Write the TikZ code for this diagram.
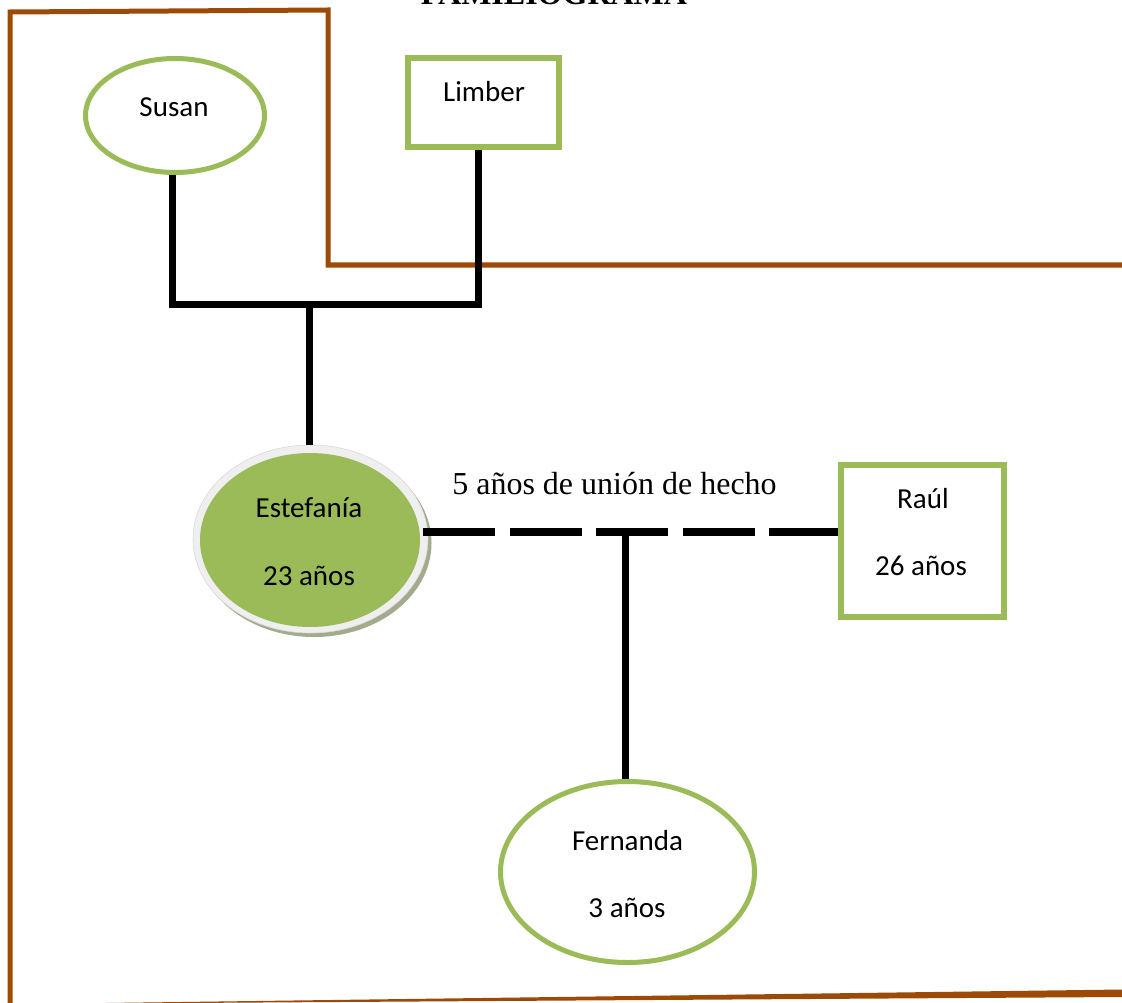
\documentclass[tikz,border=0pt]{standalone}
\usepackage{fontspec}
\setmainfont{Liberation Serif}
\newfontfamily\calibfont{Carlito}
\usetikzlibrary{shapes.geometric}
\definecolor{famgreen}{HTML}{9BBB59}
\definecolor{fambrown}{HTML}{9C4A06}
\definecolor{famring}{HTML}{EFEFEF}
\definecolor{famshadow}{HTML}{A2AB8C}
\tikzset{
  border/.style={draw=fambrown, line width=5pt},
  womanbox/.style={ellipse, draw=famgreen, line width=5pt, fill=white, inner sep=0pt},
  manbox/.style={rectangle, draw=famgreen, line width=6pt, fill=white, inner sep=0pt},
  famline/.style={draw=black, line width=7pt, line join=miter},
  unionline/.style={draw=black, line width=8pt, dash pattern=on 72pt off 14.5pt},
  lbl/.style={font=\calibfont\fontsize{29}{34}\selectfont, anchor=base, inner sep=0pt},
}
\begin{document}
\begin{tikzpicture}[x=1pt, y=-1pt]
\useasboundingbox (0,0) rectangle (1122,1003);
% title (cut off at top, as in the reference)
\node[font=\bfseries\fontsize{32}{38}\selectfont, anchor=base, inner sep=0pt] (title) at (554,5) {FAMILIOGRAMA};
% brown border
\draw[border] (10,1003) -- (10,12) -- (328,10) -- (328,265) -- (1122,265);
\fill[fambrown] (105,1003) -- (1122,989.5) -- (1122,997) -- (105,1003.5) -- cycle;
% Susan
\node[womanbox, minimum width=179pt, minimum height=114pt] (susan) at (175,115.5) {};
\node[lbl] (susantxt) at (174,117) {Susan};
% Limber
\node[manbox, minimum width=151pt, minimum height=89pt] (limber) at (483.5,102.5) {};
\node[lbl] (limbertxt) at (484,102) {Limber};
% Estefania
\node[ellipse, fill=famshadow, minimum width=235pt, minimum height=188pt, inner sep=0pt] (estshadow) at (314,543) {};
\node[ellipse, fill=famring, draw=famring!80!gray, line width=0.6pt, minimum width=235pt, minimum height=188pt, inner sep=0pt] (estefania) at (310.5,539) {};
\node[ellipse, fill=famgreen, minimum width=220pt, minimum height=174pt, inner sep=0pt] (estinner) at (310,540) {};
\node[lbl] (esttxt) at (309,517) {Estefanía};
\node[lbl] (estage) at (309,585) {23 años};
% Raul
\node[manbox, minimum width=163pt, minimum height=152pt] (raul) at (922.5,541) {};
\node[lbl] (raultxt) at (923,508) {Raúl};
\node[lbl] (raulage) at (921,575) {26 años};
% Fernanda
\node[womanbox, minimum width=254pt, minimum height=181pt] (fernanda) at (627.5,872) {};
\node[lbl] (fertxt) at (627.5,850) {Fernanda};
\node[lbl] (ferage) at (627,917) {3 años};
% parents connectors
\coordinate (pj) at (309,304);
\draw[famline] ([xshift=-3pt]susan.south) -- ([xshift=-3pt]susan.south |- pj) -- ([xshift=-5pt]limber.south |- pj) -- ([xshift=-5pt]limber.south);
\draw[famline] (pj) -- (pj |- estefania.north);
% union
\coordinate (ul) at (423,532);
\draw[unionline] (ul) -- (ul -| raul.west);
\node[font=\fontsize{32}{38}\selectfont, anchor=base, inner sep=0pt] (uniontxt) at (614.5,494) {5 años de unión de hecho};
% child
\coordinate (cj) at (625,532);
\draw[famline] (cj) -- (cj |- fernanda.north);
\end{tikzpicture}
\end{document}
